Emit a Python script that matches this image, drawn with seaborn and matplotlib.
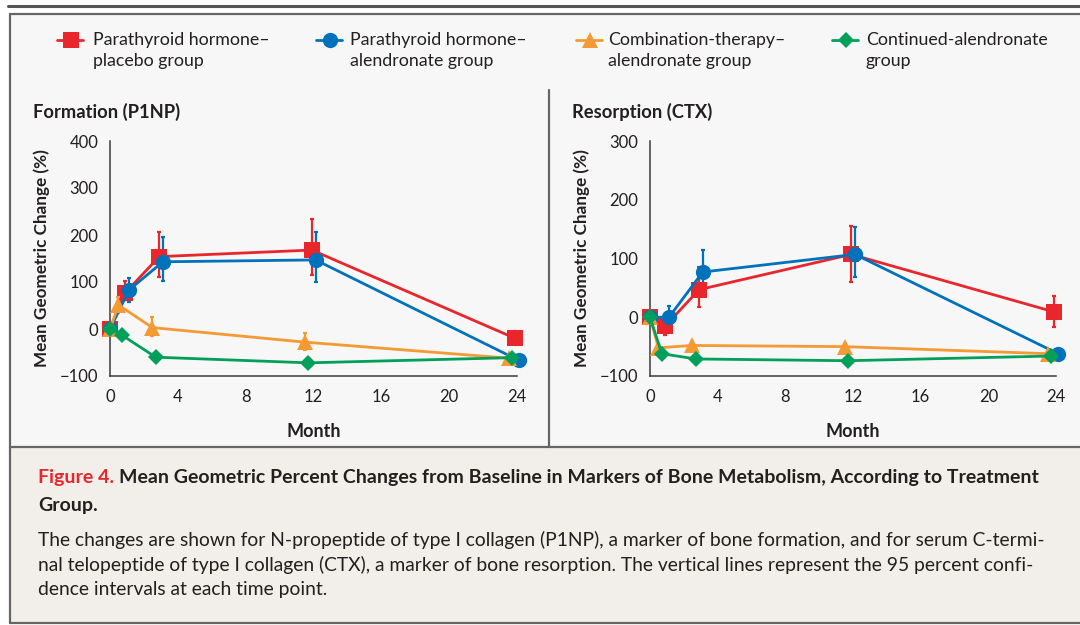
import numpy as np
import pandas as pd
import matplotlib
matplotlib.use("Agg")
import matplotlib.pyplot as plt
import seaborn as sns
from matplotlib.lines import Line2D
from matplotlib.patches import Rectangle

# ---------------- data ----------------
groups = ["Parathyroid hormone–\nplacebo group",
          "Parathyroid hormone–\nalendronate group",
          "Combination-therapy–\nalendronate group",
          "Continued-alendronate\ngroup"]
months = [0, 1, 3, 12, 24]
dodge = [-0.1, 0.12, -0.5, -0.3]  # display offset for each group

p1np_red = [0, 77, 154, 168, -20]
p1np_red_lo = [0, 62, 110, 115, -30]
p1np_red_hi = [0, 102, 207, 234, -4]
p1np_blue = [0, 83, 143, 147, -67]
p1np_blue_lo = [0, 58, 102, 99, -67]
p1np_blue_hi = [0, 108, 195, 207, -67]
p1np_orange = [0, 51, 3, -28, -62]
p1np_orange_lo = [0, 33, -15, -45, -62]
p1np_orange_hi = [0, 69, 26, -9, -62]
p1np_green = [0, -13, -60, -72, -61]
p1np_green_lo = [0, -13, -60, -72, -61]
p1np_green_hi = [0, -13, -60, -72, -61]

ctx_red = [0, -15, 47, 107, 9]
ctx_red_lo = [0, -31, 18, 60, -16]
ctx_red_hi = [0, -2, 86, 155, 36]
ctx_blue = [0, 0, 77, 107, -62]
ctx_blue_lo = [0, -16, 52, 69, -62]
ctx_blue_hi = [0, 20, 114, 154, -62]
ctx_orange = [0, -52, -48, -50, -62]
ctx_orange_lo = [0, -52, -52, -54, -62]
ctx_orange_hi = [0, -52, -44, -46, -62]
ctx_green = [0, -62, -71, -74, -66]
ctx_green_lo = [0, -62, -71, -74, -66]
ctx_green_hi = [0, -62, -71, -74, -66]

colors = ["#e8262b", "#0072bc", "#f49a34", "#00a05a"]
markers = ["s", "o", "^", "D"]
msizes = [11, 11, 11, 8]

# ---------------- style ----------------
sns.set_theme(style="white")
plt.rcParams["font.family"] = ["Lato", "DejaVu Sans"]
plt.rcParams["axes.unicode_minus"] = True

W, H = 1080, 625
fig = plt.figure(figsize=(W / 100, H / 100), dpi=100)
fig.patch.set_facecolor("white")

def fx(px):
    return px / W

def fy(py):
    return 1 - py / H

# backgrounds
fig.add_artist(Rectangle((fx(10), fy(447)), 1, fy(14) - fy(447), transform=fig.transFigure,
                         facecolor="#f7f7f7", edgecolor="none", zorder=0))
fig.add_artist(Rectangle((fx(10), fy(623)), 1, fy(447) - fy(623), transform=fig.transFigure,
                         facecolor="#f2eee9", edgecolor="none", zorder=0))
frame_c = "#666666"
fig.add_artist(Line2D([fx(8), 1], [fy(6), fy(6)], transform=fig.transFigure, color="#555555", lw=2.2))
fig.add_artist(Line2D([fx(10), 1], [fy(14), fy(14)], transform=fig.transFigure, color=frame_c, lw=1.6))
fig.add_artist(Line2D([fx(10), fx(10)], [fy(14), fy(623)], transform=fig.transFigure, color=frame_c, lw=1.6))
fig.add_artist(Line2D([fx(10), 1], [fy(447), fy(447)], transform=fig.transFigure, color=frame_c, lw=1.6))
fig.add_artist(Line2D([fx(10), 1], [fy(623), fy(623)], transform=fig.transFigure, color=frame_c, lw=1.6))
fig.add_artist(Line2D([fx(549), fx(549)], [fy(90), fy(447)], transform=fig.transFigure, color=frame_c, lw=1.6))

def build_df(series):
    rows = []
    for g, (vals, lo, hi), off in zip(groups, series, dodge):
        for m, v, l, h in zip(months, vals, lo, hi):
            rows.append({"group": g, "month": m + (off if m > 0 else 0), "value": v, "lo": l, "hi": h})
    return pd.DataFrame(rows)

df_p = build_df([(p1np_red, p1np_red_lo, p1np_red_hi),
                 (p1np_blue, p1np_blue_lo, p1np_blue_hi),
                 (p1np_orange, p1np_orange_lo, p1np_orange_hi),
                 (p1np_green, p1np_green_lo, p1np_green_hi)])
df_c = build_df([(ctx_red, ctx_red_lo, ctx_red_hi),
                 (ctx_blue, ctx_blue_lo, ctx_blue_hi),
                 (ctx_orange, ctx_orange_lo, ctx_orange_hi),
                 (ctx_green, ctx_green_lo, ctx_green_hi)])

text_c = "#231f20"

def draw_panel(ax, df, ylim, yticks, title, title_px):
    ax.set_facecolor("none")
    order = [3, 2, 1, 0]  # draw green, orange, blue, red (red on top)
    for i in order:
        g = groups[i]
        sub = df[df["group"] == g]
        ax.errorbar(sub["month"], sub["value"],
                    yerr=[sub["value"] - sub["lo"], sub["hi"] - sub["value"]],
                    fmt="none", ecolor=colors[i], elinewidth=1.6, capsize=1.5, capthick=1.6,
                    zorder=2 + i, clip_on=False)
        sns.lineplot(data=sub, x="month", y="value", ax=ax, color=colors[i],
                     marker=markers[i], markersize=msizes[i], markeredgewidth=0,
                     linewidth=2.0, legend=False, zorder=3 + i, clip_on=False,
                     estimator=None, sort=False)
    ax.set_xlim(0, 24)
    ax.set_ylim(*ylim)
    ax.set_xticks([0, 4, 8, 12, 16, 20, 24])
    ax.set_yticks(yticks)
    ax.set_yticklabels([("−" + str(-t)) if t < 0 else str(t) for t in yticks])
    for s in ["top", "right"]:
        ax.spines[s].set_visible(False)
    for s in ["left", "bottom"]:
        ax.spines[s].set_color("#3a3a3a")
        ax.spines[s].set_linewidth(1.1)
    ax.tick_params(axis="both", direction="out", length=7, width=1.1, color="#3a3a3a",
                   labelsize=12, labelcolor=text_c, pad=1.5)
    ax.tick_params(axis="x", pad=2)
    ax.set_xlabel("Month", fontsize=13, fontweight="bold", color=text_c, labelpad=13)
    ax.set_ylabel("Mean Geometric Change (%)", fontsize=12.3, fontweight="bold", color=text_c, labelpad=7)
    fig.text(fx(title_px), fy(112), title, fontsize=13.2, fontweight="bold", color=text_c,
             ha="left", va="center")

ax1 = fig.add_axes([fx(110), fy(376), fx(517 - 110), fy(141) - fy(376)])
draw_panel(ax1, df_p, (-100, 400), [-100, 0, 100, 200, 300, 400], "Formation (P1NP)", 33)
ax2 = fig.add_axes([fx(650), fy(376), fx(1056 - 650), fy(141) - fy(376)])
draw_panel(ax2, df_c, (-100, 300), [-100, 0, 100, 200, 300], "Resorption (CTX)", 572)

# legend (manual layout)
leg_marker_x = [71, 330, 590, 846]
leg_text_x = [93, 350, 608, 866]
for i, g in enumerate(groups):
    mx = leg_marker_x[i]
    fig.add_artist(Line2D([fx(mx - 14), fx(mx + 12)], [fy(40), fy(40)], transform=fig.transFigure,
                          color=colors[i], lw=2.0, marker=None))
    fig.add_artist(Line2D([fx(mx)], [fy(40)], transform=fig.transFigure, color=colors[i],
                          marker=markers[i], markersize=msizes[i], markeredgewidth=0, lw=0))
    l1, l2 = g.split("\n")
    fig.text(fx(leg_text_x[i]), fy(40), l1, fontsize=12.8, color=text_c, ha="left", va="center")
    fig.text(fx(leg_text_x[i]), fy(61), l2, fontsize=12.8, color=text_c, ha="left", va="center")

# caption
cap_x = fx(38)
cap_size = 14
t_fig = fig.text(cap_x, fy(478), "Figure 4.", fontsize=cap_size, fontweight="bold", color="#e8262b",
                 ha="left", va="center")
fig.canvas.draw()
bb = t_fig.get_window_extent(renderer=fig.canvas.get_renderer())
fig.text(bb.x1 / W + fx(5), fy(478),
         "Mean Geometric Percent Changes from Baseline in Markers of Bone Metabolism, According to Treatment",
         fontsize=cap_size, fontweight="bold", color=text_c, ha="left", va="center")
fig.text(cap_x, fy(505), "Group.", fontsize=cap_size, fontweight="bold", color=text_c, ha="left", va="center")
body = ["The changes are shown for N-propeptide of type I collagen (P1NP), a marker of bone formation, and for serum C-termi-",
        "nal telopeptide of type I collagen (CTX), a marker of bone resorption. The vertical lines represent the 95 percent confi-",
        "dence intervals at each time point."]
for i, line in enumerate(body):
    fig.text(cap_x, fy(540 + 25 * i), line, fontsize=13.9, color=text_c, ha="left", va="center")

fig.savefig("out.png", dpi=100, facecolor=fig.get_facecolor())
